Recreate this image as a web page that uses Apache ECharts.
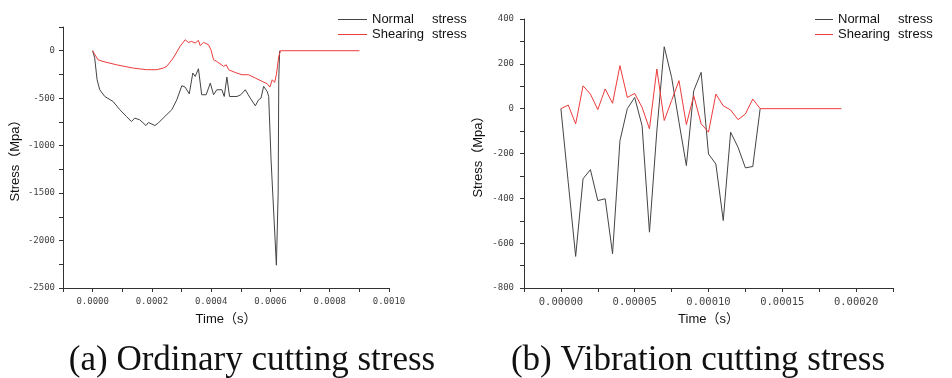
<!DOCTYPE html>
<html>
<head>
<meta charset="utf-8">
<script src="https://cdn.jsdelivr.net/npm/echarts@6.0.0/dist/echarts.min.js"></script>
<style>
  html, body { margin: 0; padding: 0; background: #fff; }
  #chart { width: 952px; height: 378px; }
</style>
</head>
<body>
<div id="chart"></div>
<script>
// (a) ordinary cutting, time in s, stress in MPa
const normalTimeA = [0, 0.000007, 0.000015, 0.000024, 0.000041, 0.000069, 0.000092, 0.000114, 0.000131, 0.000142,
  0.000159, 0.00018, 0.000188, 0.00021, 0.000221, 0.000238, 0.000267, 0.000284, 0.000301, 0.000312,
  0.000326, 0.000338, 0.000346, 0.000357, 0.000368, 0.000383, 0.000397, 0.000408, 0.000419, 0.000436,
  0.000444, 0.000453, 0.000462, 0.000487, 0.0005, 0.000515, 0.000532, 0.000549, 0.00056, 0.000568,
  0.000577, 0.000589, 0.000594, 0.000602, 0.00062, 0.000626, 0.000628, 0.000631]
const normalA = [0, -77, -306, -411, -482, -535, -622, -693, -746, -710,
  -728, -788, -756, -788, -763, -710, -622, -517, -369, -383,
  -454, -235, -271, -190, -464, -464, -341, -464, -411, -411,
  -482, -278, -482, -482, -464, -411, -500, -580, -517, -500,
  -376, -429, -482, -1150, -2260, -1500, -300, 0]
const shearTimeA = [0, 0.0000045, 0.000018, 0.000035, 0.00008, 0.000137, 0.000182, 0.000216, 0.000238, 0.00025,
  0.000272, 0.000295, 0.000312, 0.000323, 0.000334, 0.000346, 0.000357, 0.000363, 0.000374, 0.000391,
  0.000399, 0.000408, 0.000419, 0.000442, 0.000451, 0.000459, 0.000481, 0.000504, 0.000526, 0.000549,
  0.000572, 0.000589, 0.000598, 0.000606, 0.000614, 0.00062, 0.000628, 0.000634, 0.0009]
const shearA = [0, -25, -95, -113, -148, -183, -200, -200, -183, -165,
  -77, 46, 116, 88, 98, 81, 109, 53, 88, 63,
  11, -95, -113, -165, -148, -200, -229, -253, -253, -288,
  -323, -348, -383, -306, -334, -253, -60, 0, 0]

// (b) vibration cutting
const timeB = [0, 0.000005, 0.00001, 0.000015, 0.00002, 0.000025, 0.00003, 0.000035, 0.00004, 0.000045,
  0.00005, 0.000055, 0.00006, 0.000065, 0.00007, 0.000075, 0.00008, 0.000085, 0.00009, 0.000095,
  0.0001, 0.000105, 0.00011, 0.000115, 0.00012, 0.000125, 0.00013, 0.000135]
const normalB = [0, -330, -659, -313, -272, -410, -402, -647, -143, 0,
  50, -76, -551, -100, 276, 140, -60, -254, 80, 162,
  -202, -247, -499, -105, -172, -264, -258, 0]
const shearB = [0, 16, -68, 102, 65, -4, 88, 24, 192, 50,
  68, 6, -90, 177, -53, 36, 125, -71, 58, -67,
  -105, 65, 13, -6, -49, -24, 43, 0]
const shearEndB = 0.00019

const seriesNames = ['Normal stress', 'Shearing stress']
const captions = ['(a) Ordinary cutting stress', '(b) Vibration cutting stress']

const NORMAL_COLOR = '#444'
const SHEAR_COLOR = '#ec3b3b'
const monoFont = '"DejaVu Sans Mono", monospace'
const sansFont = '"Liberation Sans", "Noto Sans CJK SC", sans-serif'

const zip = (xs, ys) => xs.map((x, i) => [x, ys[i]])

const legend = (left, iconWidth) => ({
  orient: 'vertical',
  left,
  top: 8,
  icon: 'rect',
  itemWidth: iconWidth,
  itemHeight: 1,
  itemGap: 2,
  selectedMode: false,
  data: seriesNames,
  formatter: name => {
    const [w1, w2] = name.split(' ')
    return '{a|' + w1 + '}{b|' + w2 + '}'
  },
  textStyle: {
    color: '#111',
    fontSize: 13,
    fontFamily: sansFont,
    rich: {
      a: { width: 60, fontSize: 13, fontFamily: sansFont, color: '#111' },
      b: { fontSize: 13, fontFamily: sansFont, color: '#111' },
    },
  },
})

const axisCommon = {
  type: 'value',
  splitLine: { show: false },
  axisLine: { onZero: false, lineStyle: { color: '#333', width: 1 } },
  axisTick: { length: 4, lineStyle: { color: '#333' } },
}

const xAxis = (gridIndex, min, max, step, digits, fontSize) => ({
  ...axisCommon,
  gridIndex,
  min,
  max,
  interval: step,
  axisLabel: {
    margin: 9,
    color: '#444',
    fontSize,
    fontFamily: monoFont,
    formatter: v => (Math.round(v / step) % 2 === 0 ? v.toFixed(digits) : ''),
  },
  name: 'Time（s）',
  nameLocation: 'middle',
  nameGap: 25,
  nameTextStyle: { fontSize: 13, fontFamily: sansFont, color: '#111' },
})

const yAxis = (gridIndex, min, max, step, nameGap, margin) => ({
  ...axisCommon,
  gridIndex,
  min,
  max,
  interval: step,
  axisLabel: {
    margin,
    color: '#444',
    fontSize: 9,
    fontFamily: monoFont,
    formatter: v => (Math.round(v / step) % 2 === 0 ? String(v) : ''),
  },
  name: 'Stress（Mpa）',
  nameLocation: 'middle',
  nameGap,
  nameTextStyle: { fontSize: 13, fontFamily: sansFont, color: '#111' },
})

const line = (name, data, color, axisIndex) => ({
  name,
  type: 'line',
  data,
  xAxisIndex: axisIndex,
  yAxisIndex: axisIndex,
  showSymbol: false,
  symbol: 'none',
  lineStyle: { width: 1, color },
  itemStyle: { color },
})

const chart = echarts.init(document.getElementById('chart'), null, { width: 952, height: 378 })
chart.setOption({
  animation: false,
  backgroundColor: '#fff',
  grid: [
    { left: 63, top: 27, right: 563, bottom: 90 },
    { left: 524, top: 19, right: 59, bottom: 90 },
  ],
  legend: [legend(333, 29), legend(810, 18)],
  xAxis: [
    xAxis(0, -0.0001, 0.001, 0.0001, 4, 9),
    xAxis(1, -0.000025, 0.000225, 0.000025, 5, 10.5),
  ],
  yAxis: [
    yAxis(0, -2500, 250, 250, 41, 8),
    yAxis(1, -800, 400, 100, 39, 10),
  ],
  series: [
    line(seriesNames[0], zip(normalTimeA, normalA), NORMAL_COLOR, 0),
    line(seriesNames[1], zip(shearTimeA, shearA), SHEAR_COLOR, 0),
    line(seriesNames[0], zip(timeB, normalB), NORMAL_COLOR, 1),
    line(seriesNames[1], zip(timeB, shearB).concat([[shearEndB, 0]]), SHEAR_COLOR, 1),
  ],
  graphic: [
    { type: 'text', x: 252, y: 361, style: { text: captions[0], fontSize: 35, fontFamily: '"Liberation Serif", serif', fill: '#111', align: 'center', verticalAlign: 'middle' } },
    { type: 'text', x: 698, y: 361, style: { text: captions[1], fontSize: 35, fontFamily: '"Liberation Serif", serif', fill: '#111', align: 'center', verticalAlign: 'middle' } },
  ],
})
</script>
</body>
</html>
